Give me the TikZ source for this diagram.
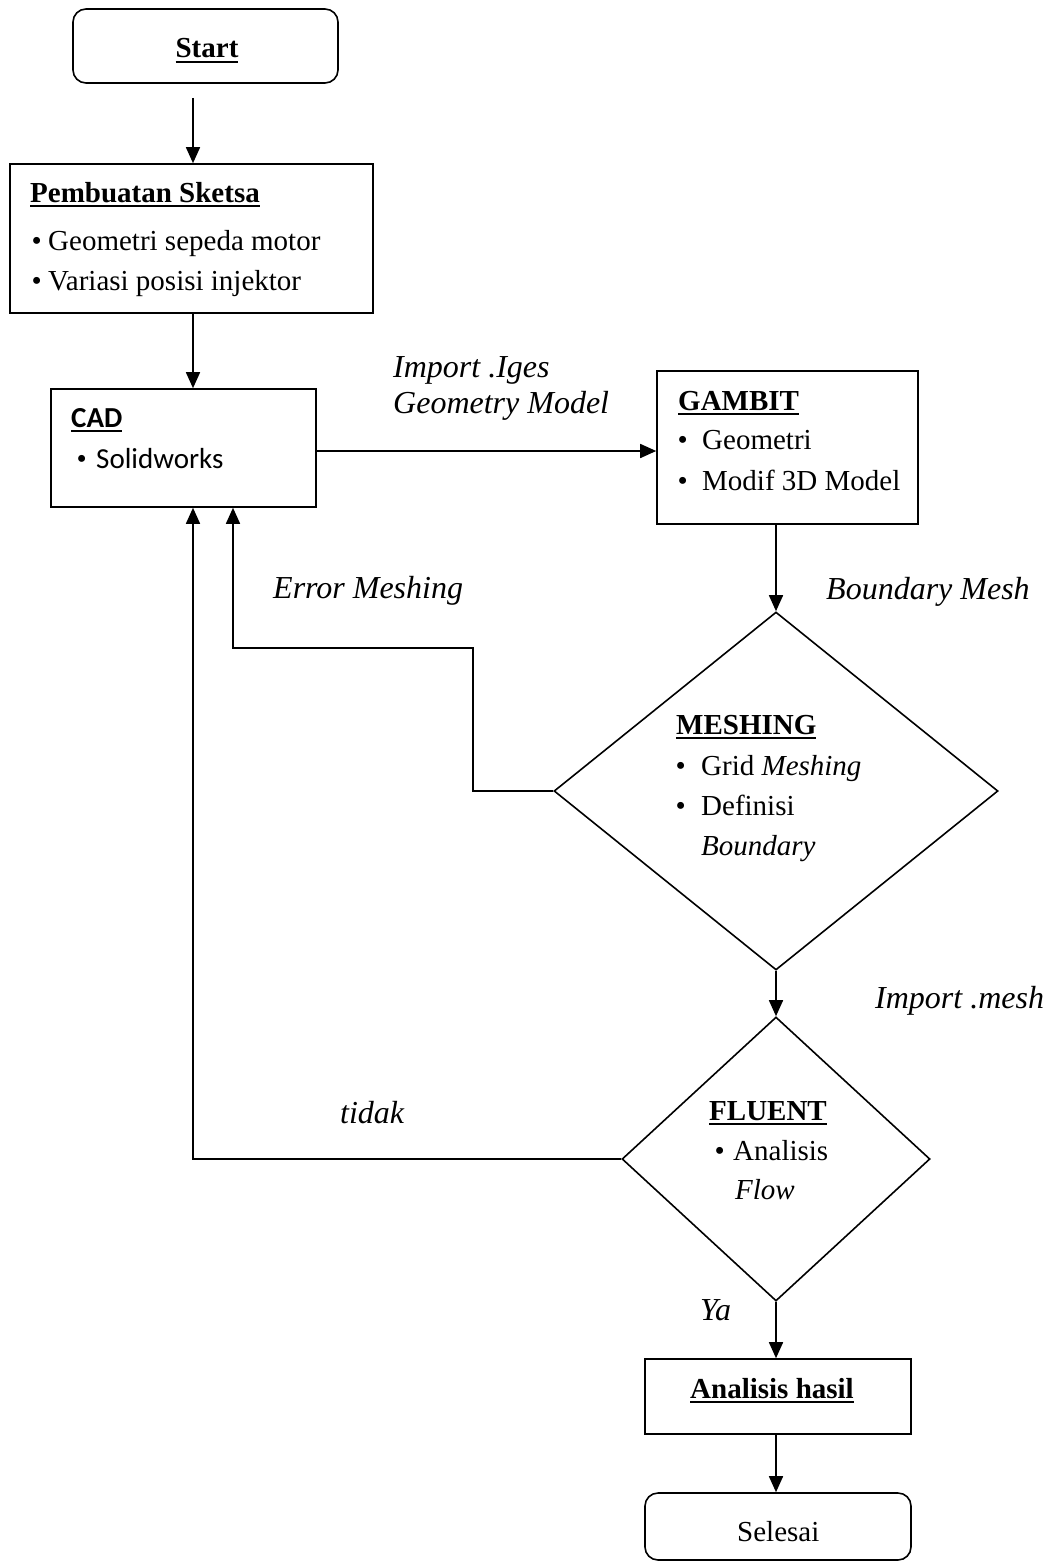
\documentclass[tikz,border=0pt]{standalone}
\usepackage{fontspec}
\setmainfont{Liberation Serif}
\newfontfamily\carlito{Carlito}
\usetikzlibrary{arrows.meta,shapes.geometric,calc}
\newcommand\myul[1]{\setbox0=\hbox{#1}\rlap{\rule[-5pt]{\wd0}{2.2pt}}\box0}
\begin{document}
\begin{tikzpicture}[x=1pt,y=-1pt,
  box/.style={draw,rectangle,inner sep=0pt,line width=1.6pt},
  rbox/.style={box,rounded corners=13pt},
  dia/.style={draw,diamond,inner sep=0pt,aspect=1,line width=1.6pt},
  arr/.style={-{Triangle[length=16pt,width=14pt]},line width=1.6pt},
  lbl/.style={anchor=base west,inner sep=0pt,font=\fontsize{29pt}{35pt}\selectfont},
  clbl/.style={lbl,anchor=base},
  elbl/.style={anchor=base west,inner sep=0pt,font=\fontsize{32pt}{38pt}\selectfont\itshape}]
\useasboundingbox (0,0) rectangle (1050,1563);

% boxes
\node[rbox,minimum width=265pt,minimum height=74pt] (start) at (205.5,46) {};
\node[box,minimum width=363pt,minimum height=149pt] (sketsa) at (191.5,238.5) {};
\node[box,minimum width=265pt,minimum height=118pt] (cad) at (183.5,448) {};
\node[box,minimum width=261pt,minimum height=153pt] (gambit) at (787.5,447.5) {};
\node[dia,minimum width=444pt,minimum height=358pt] (mesh) at (776,791) {};
\node[dia,minimum width=308pt,minimum height=284pt] (fluent) at (776,1159) {};
\node[box,minimum width=266pt,minimum height=75pt] (ana) at (778,1396.5) {};
\node[rbox,minimum width=266pt,minimum height=67pt] (selesai) at (778,1526.5) {};

% texts in boxes
\node[clbl] (tstart) at (207,58) {\textbf{\myul{Start}}};
\node[lbl] (tsk) at (30,202) {\textbf{\myul{Pembuatan Sketsa}}};
\node[lbl] (tsk1b) at (31.5,250) {•};
\node[lbl] (tsk1) at (48,250) {Geometri sepeda motor};
\node[lbl] (tsk2b) at (31.5,290) {•};
\node[lbl] (tsk2) at (48,290) {Variasi posisi injektor};

\node[lbl] (tcad) at (71,427) {\carlito\bfseries\myul{CAD}};
\node[lbl] (tcad1b) at (76.5,468) {•};
\node[lbl] (tcad1) at (96,468) {\carlito Solidworks};

\node[lbl] (tgam) at (678,410) {\textbf{\myul{GAMBIT}}};
\node[lbl] (tgam1b) at (677.5,449) {•};
\node[lbl] (tgam1) at (702,449) {Geometri};
\node[lbl] (tgam2b) at (677.5,490) {•};
\node[lbl] (tgam2) at (702,490) {Modif 3D Model};

\node[lbl] (tmesh) at (676,734) {\textbf{\myul{MESHING}}};
\node[lbl] (tmesh1b) at (675.5,775) {•};
\node[lbl] (tmesh1) at (701,775) {Grid \textit{Meshing}};
\node[lbl] (tmesh2b) at (675.5,815) {•};
\node[lbl] (tmesh2) at (701,815) {Definisi};
\node[lbl] (tmesh3) at (701,855) {\textit{Boundary}};

\node[lbl] (tflu) at (709,1120) {\textbf{\myul{FLUENT}}};
\node[lbl] (tflu1b) at (714.5,1160) {•};
\node[lbl] (tflu1) at (733,1160) {Analisis};
\node[lbl] (tflu2) at (735,1199) {\textit{Flow}};

\node[lbl] (tana) at (690,1398) {\textbf{\myul{Analisis hasil}}};
\node[lbl] (tsel) at (737,1541) {Selesai};

% edge labels
\node[elbl] (limp1) at (393,377) {Import .Iges};
\node[elbl] (limp2) at (393,413) {Geometry Model};
\node[elbl] (lbm) at (826,599) {Boundary Mesh};
\node[elbl] (lerr) at (273,598) {Error Meshing};
\node[elbl] (limesh) at (875,1008) {Import .mesh};
\node[elbl] (ltidak) at (340,1123) {tidak};
\node[elbl] (lya) at (700,1320) {Ya};

% connectors
\coordinate (s0) at ([xshift=-12.5pt,yshift=-14pt]start.south);
\draw[arr] (s0) -- (s0 |- sketsa.north);
\coordinate (s1) at ([xshift=1.5pt]sketsa.south);
\draw[arr] (s1) -- (s1 |- cad.north);
\coordinate (c1) at ([yshift=-3pt]cad.east);
\draw[arr] (c1) -- (c1 -| gambit.west);
\draw[arr] (gambit.south -| mesh.north) -- (mesh.north);
\draw[arr] (mesh.south) -- (fluent.north);
\draw[arr] (fluent.south) -- (fluent.south |- ana.north);
\draw[arr] (ana.south -| fluent.south) -- (fluent.south |- selesai.north);
\coordinate (e1) at (473,648);
\draw[arr] (mesh.west) -| (e1) -| ([xshift=49.5pt]cad.south);
\draw[arr] (fluent.west) -| ([xshift=9.5pt]cad.south);
\end{tikzpicture}
\end{document}
